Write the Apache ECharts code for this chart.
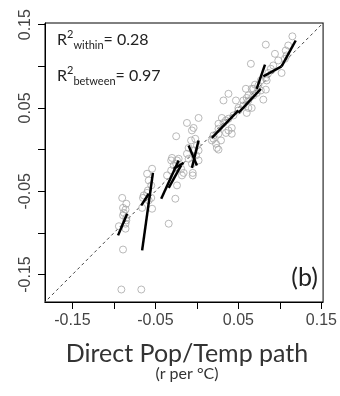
<!DOCTYPE html>
<html><head><meta charset="utf-8">
<script src="https://cdn.jsdelivr.net/npm/echarts@6/dist/echarts.min.js"></script>
<style>html,body{margin:0;padding:0;background:#fff}#c{width:340px;height:396px}</style>
</head><body><div id="c"></div>
<script>
// tick positions and labels
const tickValues = [-0.15, -0.10, -0.05, 0, 0.05, 0.10, 0.15];
const labelValues = [-0.15, -0.05, 0.05, 0.15];
const axisMin = -0.183, axisMax = 0.152;
// gray circles (individual estimates)
const circleX = [0.115,0.083,0.094,0.107,0.108,0.106,0.065,0.089,0.086,0.102,0.083,0.084,0.083,0.038,0.032,0.047,0.059,0.066,0.060,0.080,0.062,0.066,0.060,0.050,0.002,-0.012,-0.004,-0.006,0.030,0.035,0.026,0.042,0.038,0.042,0.026,0.018,0.023,0.029,0.024,0.026,-0.025,-0.010,-0.012,-0.001,0.002,-0.006,0.002,-0.030,-0.031,-0.025,-0.019,-0.016,-0.018,-0.005,-0.005,-0.060,-0.054,-0.024,-0.090,-0.026,-0.089,-0.086,-0.085,-0.085,-0.086,-0.094,-0.086,-0.089,-0.091,-0.067,-0.065,-0.060,-0.055,-0.066,-0.054,-0.034,
  0.020,0.026,0.032,0.038,0.044,0.050,0.056,0.062,0.068,0.072,0.077,0.062,0.056,0.068,0.074,0.077,0.070,0.035,0.020,
  -0.007,-0.002,-0.004,0.000,-0.010,-0.028,-0.024,-0.031,-0.036,-0.022,-0.058,-0.055,-0.059,-0.064,-0.058,-0.088,-0.085,-0.089,0.110,0.098,0.092];
const circleY = [0.136,0.126,0.115,0.119,0.113,0.109,0.103,0.097,0.092,0.092,0.086,0.083,0.072,0.067,0.059,0.059,0.073,0.073,0.062,0.060,0.050,0.050,0.044,0.050,0.038,0.032,0.026,0.023,0.038,0.035,0.031,0.026,0.023,0.019,0.019,0.011,0.007,0.011,0.002,0.000,0.016,0.002,-0.005,-0.007,-0.001,-0.017,-0.013,-0.010,-0.013,-0.017,-0.023,-0.028,-0.031,-0.028,-0.031,-0.029,-0.023,-0.043,-0.058,-0.059,-0.070,-0.072,-0.065,-0.082,-0.089,-0.092,-0.095,-0.120,-0.168,-0.168,-0.058,-0.052,-0.058,-0.070,-0.071,-0.089,
  0.017,0.025,0.032,0.037,0.041,0.047,0.053,0.059,0.065,0.068,0.071,0.065,0.059,0.073,0.077,0.083,0.078,0.020,0.013,
  0.011,0.013,-0.001,0.005,-0.011,-0.019,-0.013,-0.025,-0.031,-0.011,-0.037,-0.043,-0.049,-0.055,-0.061,-0.076,-0.085,-0.079,0.125,0.107,0.101];
// within-group regression segments [x1, y1, x2, y2]
const segments = [
  [-0.095,-0.103,-0.084,-0.077],
  [-0.066,-0.121,-0.053,-0.028],
  [-0.067,-0.067,-0.058,-0.053],
  [-0.043,-0.059,-0.022,-0.013],
  [-0.034,-0.046,-0.019,-0.019],
  [-0.028,-0.023,-0.016,-0.016],
  [-0.010,0.005,0.000,-0.019],
  [0.002,0.011,-0.006,-0.022],
  [0.018,0.014,0.050,0.047],
  [0.050,0.044,0.077,0.073],
  [0.072,0.073,0.082,0.102],
  [0.080,0.088,0.102,0.100],
  [0.102,0.100,0.119,0.131]
];
const diagLine = [-0.2, 0.2];

const chart = echarts.init(document.getElementById('c'), null, {renderer:'canvas'});
const fmt = v => (Math.abs(v) < 1e-9 ? '0' : v.toFixed(2));
const axisCommon = {
  type:'value', min:axisMin, max:axisMax,
  splitLine:{show:false},
  axisLine:{show:true, onZero:false, lineStyle:{color:'#000', width:1}},
  axisTick:{show:true, length:7, customValues:tickValues, lineStyle:{color:'#000', width:1}},
};
const series = [
  {type:'line', data: diagLine.map(v=>[v,v]), symbol:'none', silent:true, z:1,
   lineStyle:{color:'#444', width:1, type:[3,3]}},
  {type:'scatter', data: circleX.map((x,i)=>[x, circleY[i]]), symbol:'circle', symbolSize:7, z:2,
   itemStyle:{color:'rgba(0,0,0,0)', borderColor:'#a8a8a8', borderWidth:1}}
];
segments.forEach(s => series.push({type:'line', data:[[s[0],s[1]],[s[2],s[3]]], symbol:'none', z:3,
   lineStyle:{color:'#000', width:2.5}}));
const richStyle = {
  m:{fontSize:16, fontFamily:'Lato', fill:'#222', lineHeight:22, verticalAlign:'middle'},
  sup:{fontSize:11, fontFamily:'Lato', fill:'#222', lineHeight:22, verticalAlign:'top'},
  sub:{fontSize:11, fontFamily:'Lato', fill:'#222', lineHeight:22, verticalAlign:'bottom'}
};
chart.setOption({
  animation:false,
  backgroundColor:'#fff',
  grid:{left:45, top:23, width:280, height:279, show:true, borderColor:'#000', borderWidth:1, containLabel:false},
  xAxis:Object.assign({}, axisCommon, {
    axisLabel:{customValues:labelValues, formatter:fmt, fontFamily:'Liberation Sans', fontSize:16, color:'#444', margin:11}
  }),
  yAxis:Object.assign({}, axisCommon, {
    axisLabel:{customValues:labelValues, formatter:fmt, rotate:90, fontFamily:'Liberation Sans', fontSize:16, color:'#444', margin:11}
  }),
  series: series,
  graphic:[
    {type:'text', left:57, top:29, style:{text:'{m|R}{sup|2}{sub|within}{m|= 0.28}', fontFamily:'Lato', rich:richStyle}},
    {type:'text', left:57, top:65, style:{text:'{m|R}{sup|2}{sub|between}{m|= 0.97}', fontFamily:'Lato', rich:richStyle}},
    {type:'text', right:22, top:265, style:{text:'(b)', fontFamily:'Lato', fontSize:25, fill:'#222'}},
    {type:'text', x:187, y:354, style:{text:'Direct Pop/Temp path', fontFamily:'Lato', fontSize:25, fill:'#333', align:'center', verticalAlign:'middle'}},
    {type:'text', x:187, y:374, style:{text:'(r per °C)', fontFamily:'Lato', fontSize:16, fill:'#333', align:'center', verticalAlign:'middle'}}
  ]
});
</script></body></html>
